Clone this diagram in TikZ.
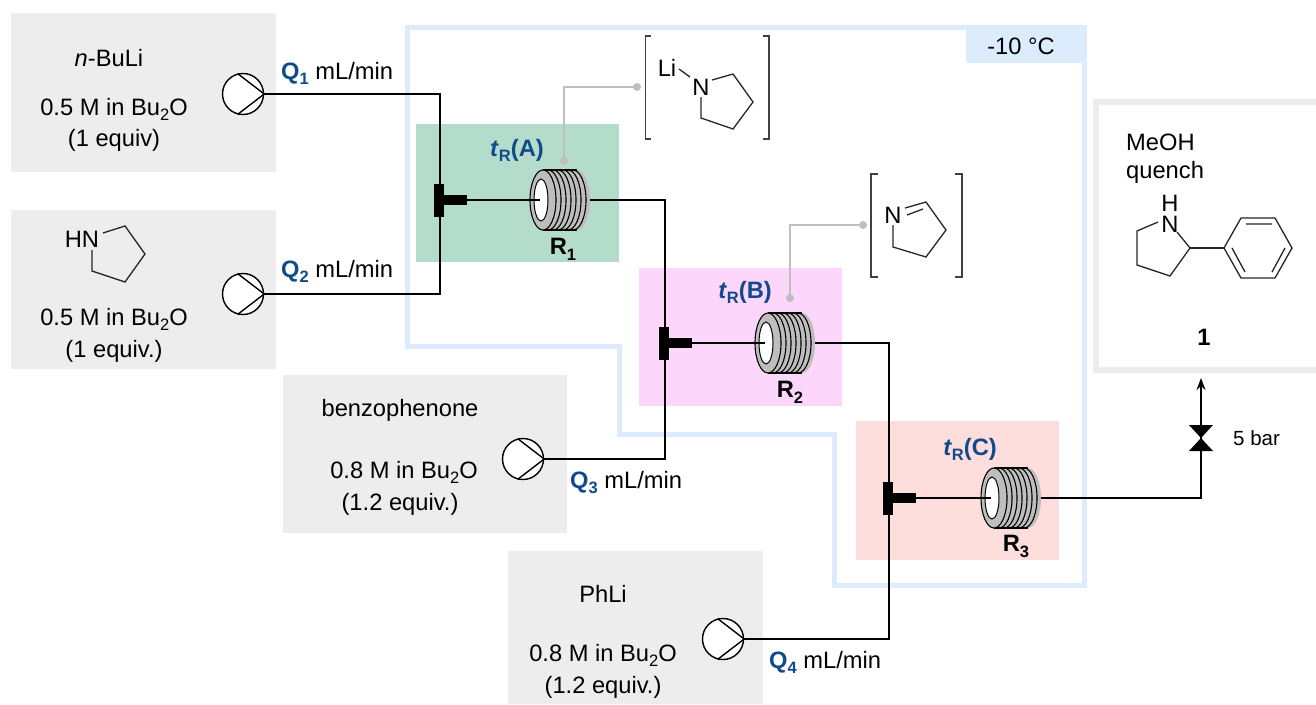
\documentclass[tikz,border=0pt]{standalone}
\usepackage{fontspec}
\setmainfont{Liberation Sans}
\usetikzlibrary{arrows.meta}
\definecolor{feedgrey}{HTML}{EDEDED}
\definecolor{coldblue}{HTML}{DDECFC}
\definecolor{qblue}{HTML}{0F4A8A}
\definecolor{zonegreen}{HTML}{B4DCCA}
\definecolor{zonepink}{HTML}{FDD6FC}
\definecolor{zonered}{HTML}{FDDEDC}
\definecolor{coilgrey}{HTML}{BEBEBE}
\definecolor{tagrey}{HTML}{BFBFBF}
\tikzset{
  lab/.style={font=\fontsize{23.7}{28}\selectfont,inner sep=0pt,yshift=-2.5pt},
  labl/.style={lab,anchor=west},
  qlab/.style={labl,text=black},
  tlab/.style={lab,text=qblue,font=\fontsize{23.7}{28}\selectfont\bfseries},
  rlab/.style={lab,font=\fontsize{23.7}{28}\selectfont\bfseries},
  pipe/.style={line width=1.3pt,black},
  bond/.style={line width=1.3pt,black!85},
  brk/.style={line width=1.5pt,black!75},
  tag/.style={line width=1.5pt,tagrey},
  pumpnode/.style={circle,draw,line width=1.4pt,fill=white,minimum size=41pt,inner sep=0pt},
  coilnode/.style={minimum width=60pt,minimum height=60pt,inner sep=0pt},
  barnode/.style={fill=black,minimum width=10pt,minimum height=33pt,inner sep=0pt},
  stubnode/.style={fill=black,minimum width=23pt,minimum height=10pt,inner sep=0pt}
}
\newcommand{\sbs}[1]{\raisebox{-.24em}{\fontsize{16.5}{16}\selectfont #1}}
\newcommand{\Qlab}[1]{\textcolor{qblue}{\textbf{Q\sbs{#1}}} mL/min}
\newcommand{\tRlab}[1]{\textit{t}\sbs{R}(#1)}
\begin{document}
\begin{tikzpicture}[x=1pt,y=-1pt]
\useasboundingbox (0,0) rectangle (1316,704);
\fill[feedgrey] (11,13) rectangle (276,172);
\fill[feedgrey] (11,210) rectangle (276,369);
\fill[feedgrey] (283,375) rectangle (567,533);
\fill[feedgrey] (508,551) rectangle (763,704);
\draw[coldblue,line width=5pt] (407,27)--(1084,27)--(1084,585)--(834,585)--(834,434)--(619,434)--(619,346)--(407,346)--cycle;
\fill[coldblue] (966,27) rectangle (1084,63);
\fill[zonegreen] (416,124) rectangle (619,262);
\fill[zonepink] (639,268) rectangle (842,406);
\fill[zonered] (856,421) rectangle (1059,560);
\draw[feedgrey,line width=6pt] (1320,102)--(1095.5,102)--(1095.5,370)--(1320,370);
\node[lab] (cold) at (1021,44) {-10 °C};
\foreach \n/\x/\y in {A/243/94,B/243/294,C/523/459,D/723/639}{
  \node[pumpnode] (pump\n) at (\x,\y) {};
  \draw[line width=1.4pt] (pump\n.105)--(pump\n.east)--(pump\n.-105);
}
\foreach \n/\jx/\cx/\y in {A/440/560/200,B/665/785/343,C/889/1011/498}{
  \coordinate (jun\n) at (\jx,\y);
  \node[barnode] (bar\n) at (\jx-1.5,\y) {};
  \node[stubnode] (stub\n) at (\jx+15,\y) {};
  \begin{scope}[shift={(\cx,\y)}]
    \fill[coilgrey] (-17,-30)--(17,-30) arc[start angle=-90,end angle=90,x radius=13,y radius=30]--(-17,30) arc[start angle=90,end angle=270,x radius=13,y radius=30]--cycle;
    \foreach \r in {-12,-7,...,17}{
      \draw[line width=1.1pt] (\r,-30) arc[start angle=-90,end angle=90,x radius=13,y radius=30];
    }
    \draw[line width=1.1pt] (-17,-30)--(17,-30) (-17,30)--(17,30);
    \draw[line width=1.1pt,fill=coilgrey] (-17,0) ellipse[x radius=13,y radius=30];
    \draw[line width=1pt,fill=white] (-19,0) ellipse[x radius=7,y radius=21];
    \coordinate (hole\n) at (-20,0);
    \node[coilnode] (coil\n) at (0,0) {};
  \end{scope}
  \draw[pipe] (stub\n.east)--(hole\n);
}
\coordinate (outlet) at (1201,378);
\coordinate (valve) at (1201,438);
\draw[pipe] (pumpA.east) -| (junA) |- (pumpB.east);
\draw[pipe] (coilA.east) -| (junB) |- (pumpC.east);
\draw[pipe] (coilB.east) -| (junC) |- (pumpD.east);
\draw[pipe,-{Stealth[length=12pt,width=9pt]}] (coilC.east) -| (outlet);
\fill[black] (valve)--(1189,425)--(1213,425)--cycle (valve)--(1189,451)--(1213,451)--cycle;
\node[labl,font=\fontsize{20.5}{24}\selectfont] (bar) at (1233,436) {5 bar};
%tags
\coordinate (tagA) at (564,161);\coordinate (specA) at (637,87);
\draw[tag] (tagA) |- (specA);
\fill[tagrey] (tagA) circle (4) (specA) circle (4);
\coordinate (tagB) at (790,298);\coordinate (specB) at (863,225);
\draw[tag] (tagB) |- (specB);
\fill[tagrey] (tagB) circle (4) (specB) circle (4);
%feeds
\node[lab] (baseName) at (109,56) {\textit{n}-BuLi};
\node[lab] (baseConc) at (114,107) {0.5 M in Bu\sbs{2}O};
\node[lab] (baseEq) at (114,138) {(1 equiv)};
\node[lab] (amineConc) at (114,317) {0.5 M in Bu\sbs{2}O};
\node[lab] (amineEq) at (114,349) {(1 equiv.)};
\node[lab] (ketName) at (400,408) {benzophenone};
\node[lab] (ketConc) at (404,470) {0.8 M in Bu\sbs{2}O};
\node[lab] (ketEq) at (400,502) {(1.2 equiv.)};
\node[lab] (phName) at (603,591) {PhLi};
\node[lab] (phConc) at (603,653) {0.8 M in Bu\sbs{2}O};
\node[lab] (phEq) at (603,685) {(1.2 equiv.)};
\node[qlab] (qA) at (281,71) {\Qlab{1}};
\node[qlab] (qB) at (281,269) {\Qlab{2}};
\node[qlab] (qC) at (570,480) {\Qlab{3}};
\node[qlab] (qD) at (769,660) {\Qlab{4}};
\node[tlab] (tA) at (517,148) {\tRlab{A}};
\node[tlab] (tB) at (745,290) {\tRlab{B}};
\node[tlab] (tC) at (970,447) {\tRlab{C}};
\node[rlab] (rA) at (563,247) {R\sbs{1}};
\node[rlab] (rB) at (790,390) {R\sbs{2}};
\node[rlab] (rC) at (1016,544) {R\sbs{3}};
%pyrrolidine
\node[lab] (hn) at (82,237) {HN};
\draw[bond] (103,233)--(125,226)--(145,254)--(125,282)--(92,271)--(92,250);
%lithium amide
\draw[brk] (651,36)--(645.5,36)--(645.5,139)--(651,139);
\draw[brk] (763,36)--(769,36)--(769,139)--(763,139);
\node[lab] (li) at (667,65) {Li};
\node[lab] (nLi) at (701,85) {N};
\draw[bond] (679,69)--(690,77);
\draw[bond] (712,80)--(733,74)--(753,102)--(733,129)--(701,118)--(701,97);
%imine
\draw[brk] (878,174)--(871,174)--(871,277)--(878,277);
\draw[brk] (955,174)--(962,174)--(962,277)--(955,277);
\node[lab] (nIm) at (893,213) {N};
\draw[bond] (905,208)--(926,202)--(946,230)--(926,257)--(893,247)--(893,225);
\draw[bond] (907,215)--(923,209);
%product
\node[labl,align=left] (quench) at (1126,156) {MeOH\\quench};
\node[lab,align=center,font=\fontsize{23.7}{21}\selectfont] (nhP) at (1170,211) {H\\N};
\draw[bond] (1158,222)--(1137,231)--(1137,265)--(1170,276)--(1190,248)--(1177,232);
\draw[bond] (1190,248)--(1224,248);
\draw[bond] (1224,248)--(1241,218)--(1275,218)--(1292,248)--(1275,278)--(1241,278)--cycle;
\draw[bond] (1246,224)--(1272,224) (1285,248)--(1272,272) (1232,248)--(1245,272);
\node[rlab] (prod) at (1204,335) {1};
\end{tikzpicture}
\end{document}
